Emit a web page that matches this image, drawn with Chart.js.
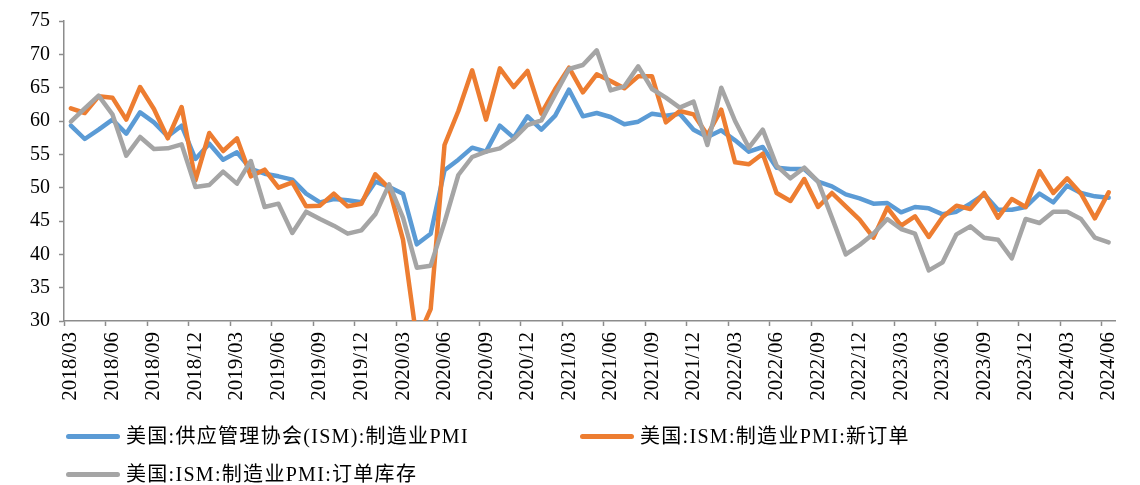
<!DOCTYPE html>
<html><head><meta charset="utf-8">
<script src="https://cdn.jsdelivr.net/npm/chart.js@4.4.1/dist/chart.umd.min.js"></script>
<style>
html,body{margin:0;padding:0;background:#fff;}
#wrap{position:relative;width:1140px;height:485px;overflow:hidden;}
canvas{position:absolute;left:0;top:0;}
.leg{position:absolute;display:flex;align-items:center;height:24px;line-height:24px;font-family:"Liberation Serif","Noto Sans CJK SC",serif;font-size:20px;color:#000;white-space:nowrap;letter-spacing:1.3px;}
.leg i{display:inline-block;width:54px;height:5px;border-radius:3px;margin-right:6px;}
</style></head>
<body><div id="wrap"><canvas id="c" width="1140" height="485"></canvas><div id="legend"></div></div>
<script>
const categories = [
'2018/03','2018/04','2018/05','2018/06','2018/07','2018/08','2018/09','2018/10','2018/11','2018/12',
'2019/01','2019/02','2019/03','2019/04','2019/05','2019/06','2019/07','2019/08','2019/09','2019/10','2019/11','2019/12',
'2020/01','2020/02','2020/03','2020/04','2020/05','2020/06','2020/07','2020/08','2020/09','2020/10','2020/11','2020/12',
'2021/01','2021/02','2021/03','2021/04','2021/05','2021/06','2021/07','2021/08','2021/09','2021/10','2021/11','2021/12',
'2022/01','2022/02','2022/03','2022/04','2022/05','2022/06','2022/07','2022/08','2022/09','2022/10','2022/11','2022/12',
'2023/01','2023/02','2023/03','2023/04','2023/05','2023/06','2023/07','2023/08','2023/09','2023/10','2023/11','2023/12',
'2024/01','2024/02','2024/03','2024/04','2024/05','2024/06'];

const seriesNames = ['美国:供应管理协会(ISM):制造业PMI','美国:ISM:制造业PMI:新订单','美国:ISM:制造业PMI:订单库存'];

const pmi = [
59.3,57.3,58.7,60.2,58.1,61.3,59.8,57.7,59.3,54.3,
56.6,54.2,55.3,52.8,52.1,51.7,51.2,49.1,47.8,48.3,48.1,47.8,
50.9,50.1,49.1,41.5,43.1,52.6,54.2,56.0,55.4,59.3,57.5,60.7,
58.7,60.8,64.7,60.7,61.2,60.6,59.5,59.9,61.1,60.8,61.1,58.7,
57.6,58.6,57.1,55.4,56.1,53.0,52.8,52.8,50.9,50.2,49.0,48.4,
47.6,47.7,46.3,47.1,46.9,46.0,46.4,47.6,49.0,46.7,46.7,47.1,
49.1,47.8,50.3,49.2,48.7,48.5];

const newOrders = [
61.9,61.2,63.7,63.5,60.2,65.1,61.8,57.4,62.1,51.1,
58.2,55.5,57.4,51.7,52.7,50.0,50.8,47.2,47.3,49.1,47.2,47.6,
52.0,49.9,42.2,27.1,31.8,56.4,61.5,67.6,60.2,67.9,65.1,67.5,
61.1,64.8,68.0,64.3,67.0,66.0,64.9,66.7,66.7,59.8,61.5,61.0,
57.9,61.7,53.8,53.5,55.1,49.2,48.0,51.3,47.1,49.2,47.2,45.2,
42.5,47.0,44.3,45.7,42.6,45.6,47.3,46.8,49.2,45.5,48.3,47.1,
52.5,49.2,51.4,49.1,45.4,49.3];

const backlog = [
59.9,61.9,63.8,61.0,54.8,57.6,55.8,55.9,56.5,50.1,
50.4,52.4,50.6,54.0,47.1,47.6,43.2,46.4,45.3,44.3,43.1,43.6,
46.0,50.5,45.5,38.0,38.3,44.8,51.9,54.6,55.4,55.9,57.3,59.4,
60.1,64.0,67.8,68.4,70.6,64.6,65.2,68.2,64.8,63.5,62.0,62.9,
56.4,65.0,60.0,56.0,58.7,53.3,51.4,53.0,50.9,45.5,40.0,41.4,
43.1,45.3,43.8,43.1,37.6,38.8,43.0,44.2,42.5,42.2,39.4,45.3,
44.7,46.4,46.4,45.3,42.5,41.8];

const yTicks = [30,35,40,45,50,55,60,65,70,75];

const AXIS = '#8c8c8c';
const FONT = '"Liberation Serif", "Times New Roman", serif';

const datasets = [
  {label: seriesNames[0], data: pmi, borderColor: '#5B9BD5', order: 2},
  {label: seriesNames[1], data: newOrders, borderColor: '#ED7D31', order: 1},
  {label: seriesNames[2], data: backlog, borderColor: '#A5A5A5', order: 0}
];

new Chart(document.getElementById('c'), {
  type: 'line',
  data: {labels: categories, datasets: datasets},
  options: {
    responsive: false,
    animation: false,
    layout: {padding: {top: 16, right: 20, bottom: 0, left: 0}},
    elements: {
      line: {borderWidth: 4.5, tension: 0, borderCapStyle: 'round', borderJoinStyle: 'round', fill: false},
      point: {radius: 0, hoverRadius: 0}
    },
    plugins: {legend: {display: false}, tooltip: {enabled: false}},
    scales: {
      x: {
        type: 'category',
        offset: true,
        grid: {
          offset: true, drawOnChartArea: false, drawTicks: true, tickLength: 5, tickWidth: 1.5,
          tickColor: c => (c.index !== undefined && c.index % 3 === 0) ? AXIS : 'rgba(0,0,0,0)'
        },
        border: {color: AXIS, width: 1.5},
        ticks: {
          autoSkip: false, maxRotation: 90, minRotation: 90, padding: 6, color: '#000',
          font: {family: FONT, size: 21},
          callback: (v, i) => (i % 3 === 0 ? categories[i] : '')
        },
        afterFit: s => { s.height = 164; }
      },
      y: {
        min: yTicks[0], max: yTicks[yTicks.length - 1],
        afterBuildTicks: s => { s.ticks = yTicks.map(v => ({value: v})); },
        ticks: {padding: 9, color: '#000', font: {family: FONT, size: 20}},
        grid: {drawOnChartArea: false, drawTicks: true, tickLength: 5, tickWidth: 1.5, tickColor: AXIS},
        border: {color: AXIS, width: 1.5},
        afterFit: s => { s.width = 64; }
      }
    }
  }
});

// HTML legend built from the dataset names/colours
const legendPos = [{left: 66, top: 424}, {left: 580, top: 424}, {left: 66, top: 462}];
const legendEl = document.getElementById('legend');
datasets.forEach((d, k) => {
  const el = document.createElement('div');
  el.className = 'leg';
  el.style.left = legendPos[k].left + 'px';
  el.style.top = legendPos[k].top + 'px';
  const sw = document.createElement('i');
  sw.style.background = d.borderColor;
  const tx = document.createElement('span');
  tx.textContent = d.label;
  el.appendChild(sw); el.appendChild(tx);
  legendEl.appendChild(el);
});
</script>
</body></html>
